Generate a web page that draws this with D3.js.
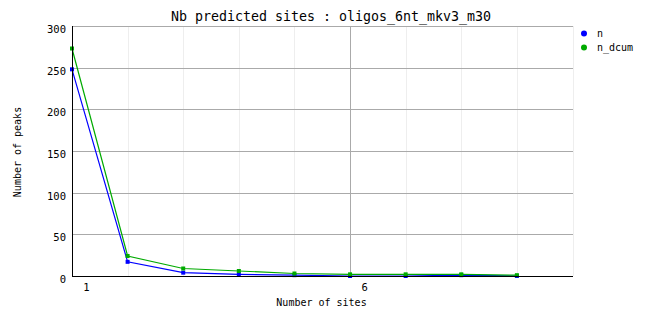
<!DOCTYPE html>
<html>
<head>
<meta charset="utf-8">
<script src="https://cdn.jsdelivr.net/npm/d3@7"></script>
<style>
  html, body { margin: 0; padding: 0; background: #fff; }
  svg text { font-family: "DejaVu Sans Mono", monospace; fill: #000; }
</style>
</head>
<body>
<svg id="chart" width="662" height="328"></svg>
<script>
const sites = [1, 2, 3, 4, 5, 6, 7, 8, 9];
const nValues = [248, 17, 4, 2, 1, 0, 0, 1, 0];
const nDcumValues = [273, 24, 9, 6, 3, 2, 2, 2, 1];
const seriesNames = ["n", "n_dcum"];
const seriesColors = ["#0000ff", "#00aa00"];
const yTickValues = [0, 50, 100, 150, 200, 250, 300];
const xGridValues = [2, 3, 4, 5, 6, 7, 8, 9, 10];
const xTickLabels = [1, 6];
const title = "Nb predicted sites : oligos_6nt_mkv3_m30";
const xTitle = "Number of sites";
const yTitle = "Number of peaks";

const svg = d3.select("#chart");
const x = d3.scaleLinear().domain([1, 10]).range([72, 572.5]);
const y = d3.scaleLinear().domain([0, 300]).range([276, 26]);

// vertical grid lines
svg.append("g").selectAll("line").data(xGridValues).join("line")
  .attr("x1", d => Math.round(x(d)) + 0.5).attr("x2", d => Math.round(x(d)) + 0.5)
  .attr("y1", y(300)).attr("y2", y(0))
  .attr("stroke", d => d === 6 ? "#aaaaaa" : "#eeeeee")
  .attr("shape-rendering", "crispEdges");

// horizontal grid lines
svg.append("g").selectAll("line").data(yTickValues.filter(d => d > 0)).join("line")
  .attr("x1", x(1)).attr("x2", x(10))
  .attr("y1", d => Math.round(y(d)) + 0.5).attr("y2", d => Math.round(y(d)) + 0.5)
  .attr("stroke", "#aaaaaa")
  .attr("shape-rendering", "crispEdges");

// series
const series = [nValues, nDcumValues];
const line = d3.line().x((d, i) => x(sites[i])).y(d => y(d));
series.forEach((vals, si) => {
  svg.append("path").datum(vals)
    .attr("d", line)
    .attr("fill", "none")
    .attr("stroke", seriesColors[si])
    .attr("stroke-width", 1.2);
  svg.append("g").selectAll("rect").data(vals).join("rect")
    .attr("x", (d, i) => x(sites[i]) - 2)
    .attr("y", d => y(d) - 2)
    .attr("width", 4).attr("height", 4)
    .attr("fill", seriesColors[si]);
});

// axes lines
svg.append("line")
  .attr("x1", x(1)).attr("x2", x(10))
  .attr("y1", y(0) + 0.5).attr("y2", y(0) + 0.5)
  .attr("stroke", "#000").attr("shape-rendering", "crispEdges");
svg.append("line")
  .attr("x1", Math.round(x(1)) + 0.5).attr("x2", Math.round(x(1)) + 0.5)
  .attr("y1", y(300)).attr("y2", y(0) + 1)
  .attr("stroke", "#000").attr("shape-rendering", "crispEdges");

// y axis labels
const yAxis = d3.axisLeft(y).tickValues(yTickValues).tickSize(0).tickPadding(0);
const yg = svg.append("g").attr("transform", "translate(66,0)").call(yAxis);
yg.select(".domain").remove();
yg.selectAll("text")
  .attr("font-family", "DejaVu Sans Mono").attr("font-size", 10.5)
  .attr("dy", "0.62em").attr("fill", "#000");

// x axis labels
const xAxis = d3.axisBottom(x).tickValues(xTickLabels).tickSize(0).tickPadding(0).tickFormat(d3.format("d"));
const xg = svg.append("g").attr("transform", "translate(14,284)").call(xAxis);
xg.select(".domain").remove();
xg.selectAll("text")
  .attr("font-family", "DejaVu Sans Mono").attr("font-size", 10.5)
  .attr("dy", "0.71em").attr("fill", "#000");

// titles
svg.append("text").attr("x", 331).attr("y", 21).attr("text-anchor", "middle")
  .attr("font-size", 13.3).text(title);
svg.append("text").attr("x", 321.5).attr("y", 306).attr("text-anchor", "middle")
  .attr("font-size", 10).text(xTitle);
svg.append("text").attr("transform", "translate(21,152) rotate(-90)").attr("text-anchor", "middle")
  .attr("font-size", 10).text(yTitle);

// legend
const lg = svg.append("g").selectAll("g").data(seriesNames).join("g")
  .attr("transform", (d, i) => `translate(584,${33.5 + i * 14})`);
lg.append("circle").attr("r", 3).attr("fill", (d, i) => seriesColors[i]);
lg.append("text").attr("x", 13).attr("y", 3.5).attr("font-size", 10).text(d => d);
</script>
</body>
</html>
